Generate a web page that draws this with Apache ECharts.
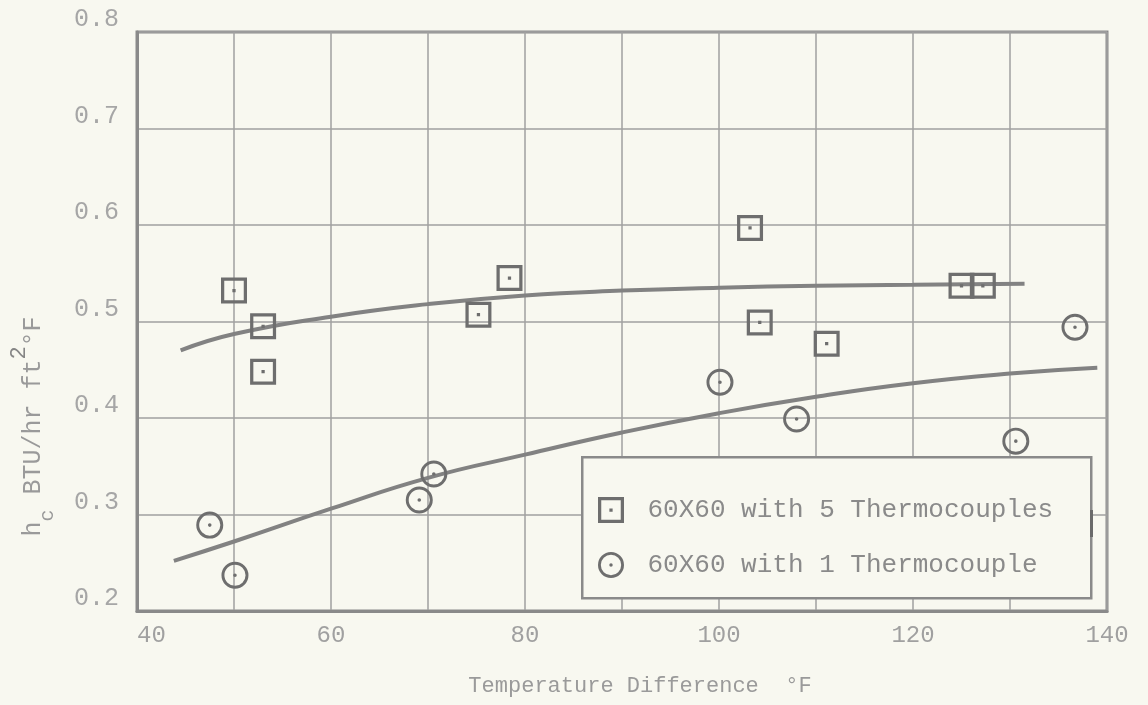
<!DOCTYPE html>
<html>
<head>
<meta charset="utf-8">
<title>h_c vs Temperature Difference</title>
<script src="https://cdn.jsdelivr.net/npm/echarts@6/dist/echarts.min.js"></script>
<style>
    html, body { margin: 0; padding: 0; background: #f8f8f0; }
    #chart { width: 1148px; height: 705px; }
</style>
</head>
<body>
<div id="chart"></div>
<script>
// tick labels
var xTickLabels = [40, 60, 80, 100, 120, 140];
var yTickLabels = ['0.2', '0.3', '0.4', '0.5', '0.6', '0.7', '0.8'];

// 60X60 with 5 thermocouples (squares)
var squareX = [50, 53, 53, 75.2, 78.4, 103.2, 104.2, 111.1, 125.0, 127.2];
var squareY = [0.532, 0.495, 0.448, 0.507, 0.545, 0.597, 0.499, 0.477, 0.537, 0.537];

// 60X60 with 1 thermocouple (circles)
var circleX = [47.5, 50.1, 69.1, 70.6, 100.1, 108.0, 130.6, 136.7];
var circleY = [0.289, 0.237, 0.315, 0.342, 0.437, 0.399, 0.376, 0.494];

// hand drawn fit curves
var upperX = [44.5, 50, 60, 70, 80, 90, 100, 110, 120, 131.5];
var upperY = [0.470, 0.487, 0.505, 0.518, 0.527, 0.532, 0.535, 0.537, 0.538, 0.539];
var lowerX = [43.8, 50, 60, 70, 80, 90, 100, 110, 120, 130, 139];
var lowerY = [0.252, 0.272, 0.306, 0.338, 0.362, 0.385, 0.405, 0.422, 0.436, 0.446, 0.452];

var seriesNames = ['60X60 with 5 Thermocouples', '60X60 with 1 Thermocouple'];

function pairs(xs, ys) {
    var out = [];
    for (var i = 0; i < xs.length; i++) {
        out.push([xs[i], ys[i]]);
    }
    return out;
}

// hollow square / circle with a centre dot
var squareIcon = 'path://M0,0H24V24H0Z M3,3V21H21V3Z M10.5,10.5H13.5V13.5H10.5Z';
var circleIcon = 'path://M12,0A12,12 0 1,1 12,24A12,12 0 1,1 12,0Z M12,2.6A9.4,9.4 0 1,0 12,21.4A9.4,9.4 0 1,0 12,2.6Z M12,10.4A1.6,1.6 0 1,1 12,13.6A1.6,1.6 0 1,1 12,10.4Z';

var font = '"Liberation Mono", "DejaVu Sans Mono", monospace';
var bgColor = '#f8f8f0';
var inkColor = '#6e6e6e';
var gridColor = '#a0a0a0';

var chart = echarts.init(document.getElementById('chart'));
var option = {
    backgroundColor: bgColor,
    animation: false,
    grid: {
        left: 136,
        right: 41,
        top: 32,
        bottom: 94,
        show: true,
        borderColor: '#8a8a8a',
        borderWidth: 3
    },
    graphic: [
        {
            // legend frame, covers the grid behind it
            type: 'rect',
            left: 581,
            top: 456,
            shape: { width: 509, height: 141 },
            style: { fill: bgColor, stroke: '#8a8a8a', lineWidth: 2.5 },
            z: 10
        },
        {
            type: 'rect',
            left: 1090,
            top: 510,
            shape: { width: 3, height: 27 },
            style: { fill: '#6a6a6a' },
            z: 11
        }
    ],
    legend: {
        orient: 'vertical',
        left: 593,
        top: 492,
        itemWidth: 27,
        itemHeight: 26,
        itemGap: 29,
        selectedMode: false,
        z: 12,
        data: [
            { name: seriesNames[0], icon: squareIcon },
            { name: seriesNames[1], icon: circleIcon }
        ],
        textStyle: {
            fontFamily: font,
            fontSize: 26,
            color: '#8a8a8a',
            padding: [0, 0, 0, 18]
        }
    },
    xAxis: {
        type: 'value',
        min: 40,
        max: 140,
        interval: 10,
        name: 'Temperature Difference  °F',
        nameLocation: 'middle',
        nameGap: 64,
        nameTextStyle: {
            fontFamily: font,
            fontSize: 22,
            color: '#9a9a9a',
            padding: [0, 0, 0, 36]
        },
        axisLine: { show: true, lineStyle: { color: '#8a8a8a', width: 3 } },
        axisTick: { show: false },
        axisLabel: {
            margin: 13,
            fontFamily: font,
            fontSize: 24,
            color: '#a0a0a0',
            alignMinLabel: 'left',
            formatter: function (v) {
                return xTickLabels.indexOf(v) >= 0 ? String(v) : '';
            }
        },
        splitLine: { show: true, lineStyle: { color: gridColor, width: 1.5 } }
    },
    yAxis: {
        type: 'value',
        min: 0.2,
        max: 0.8,
        interval: 0.1,
        name: '{a|h}{sub|c}{a| BTU/hr ft}{sup|2}{a|°F}',
        nameLocation: 'middle',
        nameRotate: 90,
        nameGap: 79,
        nameTextStyle: {
            padding: [0, 210, 0, 0],
            rich: {
                a: { fontFamily: font, fontSize: 25, color: '#9a9a9a', lineHeight: 50, verticalAlign: 'middle' },
                sub: { fontFamily: font, fontSize: 20, color: '#9a9a9a', lineHeight: 12, verticalAlign: 'bottom' },
                sup: { fontFamily: font, fontSize: 22, color: '#858585', lineHeight: 30, verticalAlign: 'top' }
            }
        },
        axisLine: { show: true, lineStyle: { color: '#8a8a8a', width: 3 } },
        axisTick: { show: false },
        axisLabel: {
            margin: 18,
            fontFamily: font,
            fontSize: 25,
            color: '#a6a6a6',
            verticalAlign: 'bottom',
            formatter: function (v) {
                var s = v.toFixed(1);
                return yTickLabels.indexOf(s) >= 0 ? s : '';
            }
        },
        splitLine: { show: true, lineStyle: { color: gridColor, width: 1.5 } }
    },
    series: [
        {
            name: 'upper fit',
            type: 'line',
            smooth: true,
            showSymbol: false,
            silent: true,
            data: pairs(upperX, upperY),
            lineStyle: { color: '#828282', width: 4 },
            z: 3
        },
        {
            name: 'lower fit',
            type: 'line',
            smooth: true,
            showSymbol: false,
            silent: true,
            data: pairs(lowerX, lowerY),
            lineStyle: { color: '#828282', width: 4 },
            z: 3
        },
        {
            name: seriesNames[0],
            type: 'scatter',
            symbol: squareIcon,
            symbolSize: 26,
            data: pairs(squareX, squareY),
            itemStyle: { color: inkColor, opacity: 1 },
            z: 4
        },
        {
            name: seriesNames[1],
            type: 'scatter',
            symbol: circleIcon,
            symbolSize: 27,
            data: pairs(circleX, circleY),
            itemStyle: { color: inkColor, opacity: 1 },
            z: 4
        }
    ]
};
chart.setOption(option);
</script>
</body>
</html>
